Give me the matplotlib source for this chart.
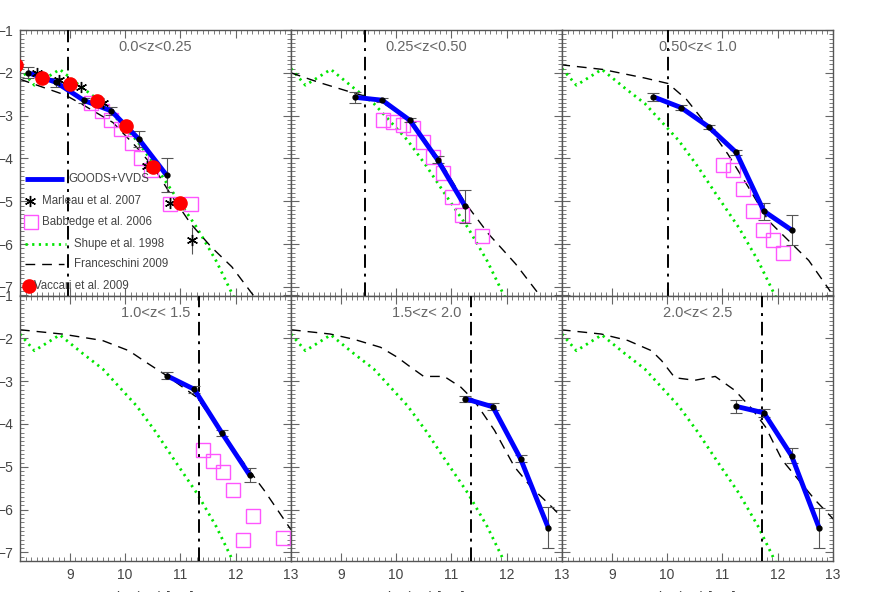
import matplotlib
matplotlib.use("Agg")
import matplotlib.pyplot as plt
from matplotlib.ticker import MultipleLocator

plt.rcParams['font.family'] = ['Liberation Sans', 'DejaVu Sans']

# ---------------- data ----------------
z_labels = ["0.0<z<0.25", "0.25<z<0.50", "0.50<z< 1.0",
            "1.0<z< 1.5", "1.5<z< 2.0", "2.0<z< 2.5"]
lim_lum = [8.96, 9.43, 10.02, 11.34, 11.35, 11.72]

goods_x = [[8.25, 8.75, 9.25, 9.75, 10.25, 10.75],
           [9.25, 9.75, 10.25, 10.75, 11.25],
           [9.75, 10.25, 10.75, 11.25, 11.75, 12.25],
           [10.75, 11.25, 11.75, 12.25],
           [11.25, 11.75, 12.25, 12.75],
           [11.25, 11.75, 12.25, 12.75]]
goods_y = [[-2.0, -2.22, -2.64, -2.89, -3.55, -4.39],
           [-2.57, -2.64, -3.11, -4.03, -5.12],
           [-2.56, -2.81, -3.26, -3.86, -5.23, -5.67],
           [-2.87, -3.19, -4.21, -5.19],
           [-3.41, -3.60, -4.81, -6.42],
           [-3.59, -3.74, -4.74, -6.43]]
goods_err = [[0.13, 0.10, 0.06, 0.10, 0.18, 0.40],
             [0.13, 0.05, 0.05, 0.08, 0.39],
             [0.10, 0.05, 0.05, 0.06, 0.20, 0.34],
             [0.08, 0.08, 0.06, 0.16],
             [0.07, 0.08, 0.08, 0.48],
             [0.16, 0.10, 0.17, 0.47]]

fran_x = [[8.1, 8.92, 9.23, 9.78, 10.21, 10.52, 10.82, 11.19, 11.56, 11.93, 12.35],
          [8.1, 8.62, 9.23, 9.66, 10.27, 10.76, 11.24, 11.67, 12.16, 12.6],
          [8.07, 8.83, 9.59, 10.02, 10.35, 10.72, 11.1, 11.47, 11.83, 12.19, 12.56, 12.95],
          [8.1, 8.86, 9.59, 10.07, 10.38, 10.75, 11.29, 11.72, 12.15, 12.51, 13.0],
          [8.1, 8.81, 9.23, 9.72, 10.02, 10.26, 10.5, 10.87, 11.17, 11.41, 11.78, 12.14, 12.44, 12.81, 13.1],
          [8.08, 8.81, 9.29, 9.72, 9.9, 10.14, 10.5, 10.87, 11.23, 11.53, 11.78, 12.08, 12.38, 12.68, 13.02]]
fran_y = [[-2.15, -2.52, -2.74, -3.16, -3.74, -4.21, -4.83, -5.53, -6.07, -6.53, -7.25],
          [-2.0, -2.23, -2.47, -2.62, -3.12, -3.98, -5.02, -5.76, -6.46, -7.2],
          [-1.81, -1.92, -2.12, -2.25, -2.62, -3.22, -3.9, -4.67, -5.45, -5.91, -6.38, -7.1],
          [-1.8, -1.9, -2.05, -2.29, -2.56, -2.87, -3.37, -4.15, -4.92, -5.54, -6.47],
          [-1.8, -1.9, -2.02, -2.21, -2.44, -2.67, -2.89, -2.89, -3.14, -3.45, -4.15, -5.0, -5.47, -5.93, -6.32],
          [-1.8, -1.9, -2.05, -2.29, -2.52, -2.92, -2.98, -2.89, -3.22, -3.64, -4.07, -4.84, -5.31, -5.78, -6.24]]

babb_x = [[9.39, 9.58, 9.75, 9.93, 10.12, 10.29, 10.47, 10.82, 11.19],
          [9.77, 9.95, 10.13, 10.31, 10.48, 10.66, 10.84, 11.02, 11.20, 11.56],
          [11.02, 11.20, 11.38, 11.56, 11.73, 11.91, 12.09],
          [11.41, 11.59, 11.77, 11.96, 12.31, 12.13, 12.85],
          [], []]
babb_y = [[-2.70, -2.88, -3.11, -3.32, -3.63, -3.98, -4.26, -5.06, -5.06],
          [-3.11, -3.16, -3.22, -3.29, -3.61, -3.96, -4.33, -4.89, -5.32, -5.80],
          [-4.15, -4.26, -4.71, -5.23, -5.67, -5.91, -6.20],
          [-4.61, -4.87, -5.13, -5.54, -6.14, -6.71, -6.67],
          [], []]

shupe_x = [8.1, 8.36, 8.82, 9.23, 9.6, 9.87, 10.21, 10.55, 10.9, 11.3, 11.65, 11.97]
shupe_y = [-1.9, -2.29, -1.92, -2.35, -2.72, -3.1, -3.58, -4.18, -4.86, -5.62, -6.4, -7.25]

marl_x = [8.40, 8.80, 9.21, 9.60, 10.01, 10.39, 10.81, 11.21]
marl_y = [-2.0, -2.16, -2.33, -2.70, -3.26, -4.17, -5.05, -5.91]
marl_err = [0.05, 0.05, 0.05, 0.05, 0.05, 0.05, 0.08, 0.31]

vacc_x = [8.02, 8.49, 9.01, 9.50, 10.01, 10.50, 11.0]
vacc_y = [-1.81, -2.13, -2.25, -2.66, -3.24, -4.21, -5.05]

legend_labels = ["GOODS+VVDS", "Marleau et al. 2007", "Babbedge et al. 2006",
                 "Shupe et al. 1998", "Franceschini 2009", "Vaccari et al. 2009"]

# ---------------- styles ----------------
BLUE = '#0000ff'
GREEN = '#00e600'
MAG = '#ff55ff'
RED = '#ff0000'
GREY = '#555555'
ASTER = (6, 2, 0)
green_ls = (0, (0.8, 1.6))
dash_ls = (0, (7, 5))
dashdot_ls = (0, (7, 3, 1.5, 3))

fig, axes = plt.subplots(2, 3, figsize=(8.72, 5.92), dpi=100)
fig.subplots_adjust(left=20/872, right=833/872, top=1-30/592, bottom=1-561/592,
                    wspace=0, hspace=0)

for i, ax in enumerate(axes.flat):
    ax.set_xlim(8.1, 13.0)
    ax.set_ylim(-7.2, -1.0)
    ax.xaxis.set_major_locator(MultipleLocator(1))
    ax.xaxis.set_minor_locator(MultipleLocator(0.1))
    ax.yaxis.set_major_locator(MultipleLocator(1))
    ax.yaxis.set_minor_locator(MultipleLocator(0.1))
    ax.tick_params(which='both', direction='in', top=True, right=True,
                   color='#666666', labelcolor='#444444', labelsize=10)
    ax.tick_params(which='major', length=6, width=0.8, pad=5)
    ax.tick_params(which='minor', length=3, width=0.6)
    for s in ax.spines.values():
        s.set_color('#555555')
        s.set_linewidth(1.0)
    row, col = divmod(i, 3)
    if col != 0:
        ax.tick_params(labelleft=False)
    if row == 0:
        ax.tick_params(labelbottom=False)
    else:
        ax.set_xlabel(r'log(L$_{\rm IR}$) [L$_\odot$]', color='#444444',
                      fontsize=10, labelpad=5)

    # Shupe
    ax.plot(shupe_x, shupe_y, color=GREEN, ls=green_ls, lw=2.0, zorder=2)
    # Franceschini
    ax.plot(fran_x[i], fran_y[i], color='black', ls=dash_ls, lw=1.0, zorder=2)
    # Babbedge
    if babb_x[i]:
        ax.plot(babb_x[i], babb_y[i], ls='none', marker='s', ms=10,
                mfc='none', mec=MAG, mew=1.0, zorder=3)
    # GOODS+VVDS
    ax.errorbar(goods_x[i], goods_y[i], yerr=goods_err[i], fmt='none',
                ecolor=GREY, elinewidth=0.8, capsize=4, capthick=0.8, zorder=4)
    ax.plot(goods_x[i], goods_y[i], color=BLUE, lw=3.5, zorder=5,
            solid_capstyle='butt')
    ax.plot(goods_x[i], goods_y[i], ls='none', marker='o', ms=3.5,
            color='black', zorder=6)
    # luminosity limit
    ax.axvline(lim_lum[i], color='black', ls=dashdot_ls, lw=1.4, zorder=3)
    # title
    ax.text(0.5, 0.935, z_labels[i], transform=ax.transAxes, ha='center',
            va='center', color='#666666', fontsize=10.5)

    if i == 0:
        ax.errorbar(marl_x, marl_y, yerr=marl_err, fmt='none', ecolor=GREY,
                    elinewidth=0.8, capsize=0, zorder=6)
        ax.plot(marl_x, marl_y, ls='none', marker=ASTER, ms=8, color='black',
                mew=1.0, zorder=7)
        ax.plot(vacc_x, vacc_y, ls='none', marker='o', ms=9.5, color=RED,
                mec=RED, zorder=8)

# ---------- legend (manual, panel 1) ----------
ax = axes[0, 0]
T = ax.transAxes
lfs = 8.3
lc = '#444444'
ax.plot([0.019, 0.161], [0.44, 0.44], color=BLUE, lw=3.5, transform=T,
        solid_capstyle='butt', zorder=9)
ax.text(0.18, 0.44, legend_labels[0], transform=T, va='center', fontsize=lfs, color=lc)
ax.plot([0.037], [0.357], marker=ASTER, ms=8, color='black', transform=T, zorder=9)
ax.text(0.082, 0.357, legend_labels[1], transform=T, va='center', fontsize=lfs, color=lc)
ax.plot([0.041], [0.278], marker='s', ms=10, mfc='none', mec=MAG, transform=T, zorder=9)
ax.text(0.082, 0.278, legend_labels[2], transform=T, va='center', fontsize=lfs, color=lc)
ax.plot([0.019, 0.169], [0.195, 0.195], color=GREEN, ls=green_ls, lw=2.0, transform=T)
ax.text(0.199, 0.195, legend_labels[3], transform=T, va='center', fontsize=lfs, color=lc)
ax.plot([0.019, 0.161], [0.117, 0.117], color='black', ls=dash_ls, lw=1.0, transform=T)
ax.text(0.199, 0.117, legend_labels[4], transform=T, va='center', fontsize=lfs, color=lc)
ax.plot([0.034], [0.034], marker='o', ms=9.5, color=RED, transform=T, zorder=9)
ax.text(0.052, 0.034, legend_labels[5], transform=T, va='center', fontsize=lfs, color=lc,
        zorder=10)

fig.savefig('out.png', dpi=100)
